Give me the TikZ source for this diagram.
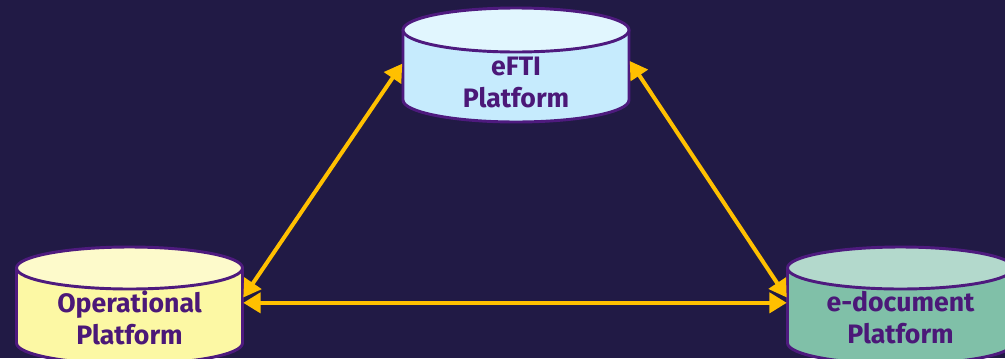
\documentclass[tikz,border=0pt]{standalone}
\usepackage{fontspec}
\setmainfont{Fira Sans}
\usetikzlibrary{arrows.meta}
\definecolor{bg}{HTML}{211A45}
\definecolor{arrowc}{HTML}{FFC000}
\definecolor{outl}{HTML}{4E1A7E}
\definecolor{txt}{HTML}{4B1878}
\definecolor{eftibody}{HTML}{C6EBFD}
\definecolor{eftitop}{HTML}{E1F6FE}
\definecolor{opbody}{HTML}{FCF8A4}
\definecolor{optop}{HTML}{FDFACB}
\definecolor{edbody}{HTML}{80C0A8}
\definecolor{edtop}{HTML}{B3D9CC}
\newcommand\mycyl[6]{%
  \fill[#4] ({#1-113},{-#2}) -- ({#1-113},{-#3}) arc[start angle=180,end angle=360,x radius=113,y radius=#6] -- ({#1+113},{-#2}) -- cycle;
  \draw[cylline] ({#1-113},{-#2}) -- ({#1-113},{-#3}) arc[start angle=180,end angle=360,x radius=113,y radius=#6] -- ({#1+113},{-#2});
  \filldraw[cylline,fill=#5] (#1,-#2) ellipse[x radius=113,y radius=#6];
}
\begin{document}
\begin{tikzpicture}[x=0.75pt,y=0.75pt,
  cylline/.style={draw=outl,line width=2.2pt},
  geom/.style={draw=none,inner sep=0pt,minimum width=170.25pt},
  lbl/.style={text=txt,font=\fontsize{20}{24}\selectfont\bfseries,align=center,inner sep=0pt},
  arr/.style={draw=arrowc,line width=3pt,{Triangle[length=13pt,width=15pt]}-{Triangle[length=13pt,width=15pt]}}]
\fill[bg] (0,0) rectangle (1005,-358);
\useasboundingbox (0,0) rectangle (1005,-358);
% cylinders
\mycyl{516}{30}{100}{eftibody}{eftitop}{22}
\mycyl{129.5}{268}{343}{opbody}{optop}{21}
\mycyl{900.5}{268}{343}{edbody}{edtop}{21}
% geometry nodes
\node[geom,minimum height=52.5pt] (efti) at (516,-65) {};
\node[geom,minimum height=56.25pt] (op) at (129.5,-305.5) {};
\node[geom,minimum height=56.25pt] (ed) at (900.5,-305.5) {};
% labels
\node[lbl] (efti-t) at (516,-82) {eFTI\\Platform};
\node[lbl] (op-t) at (129.5,-318) {Operational\\Platform};
\node[lbl] (ed-t) at (900.5,-318) {e-document\\Platform};
% arrows
\draw[arr] ([yshift=6pt]op.east) -- ([yshift=1pt]efti.west);
\draw[arr] ([yshift=3pt]efti.east) -- ([yshift=6pt]ed.west);
\draw[arr] ([yshift=2pt]op.east) -- ([yshift=2pt]ed.west);
\end{tikzpicture}
\end{document}
